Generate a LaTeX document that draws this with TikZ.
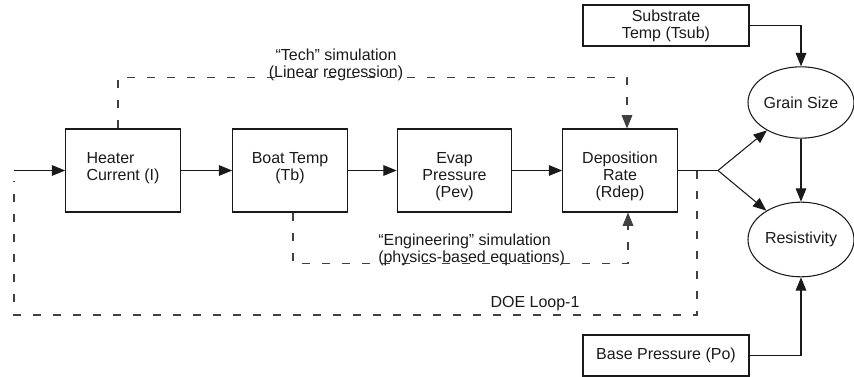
\documentclass[tikz,border=0pt]{standalone}
\usepackage{fontspec}
\setmainfont{Liberation Sans}
\usetikzlibrary{arrows.meta, calc, positioning, shapes.geometric}
\definecolor{Ink}{HTML}{1A1A1A}
\definecolor{DGray}{HTML}{404040}

\begin{document}
\begin{tikzpicture}[x=0.75pt, y=-0.75pt,
    every node/.style={font=\fontsize{12}{12.75}\selectfont, text=Ink},
    block/.style={draw=Ink, line width=0.8pt, minimum width=86pt, minimum height=62.25pt,
      align=center, text height=#1, text depth=5pt},
    block/.default=19.7pt,
    source/.style={draw=Ink, line width=0.8pt, minimum width=124.5pt, minimum height=30.75pt, align=center},
    oval/.style={draw=Ink, line width=0.8pt, ellipse, inner sep=0pt, minimum width=79.5pt, minimum height=53.5pt},
    note/.style={inner sep=0pt, align=center},
    flow/.style={draw=Ink, line width=0.8pt, -{Triangle[length=10pt, width=8pt]}},
    sim/.style={draw=DGray, line width=0.8pt, dash pattern=on 6pt off 9pt}]
  \useasboundingbox (0,0) rectangle (854,377);
  % Process chain
  \node[block, align=left] (heater) at (123,170.5) {Heater\\Current (I)};
  \node[block] (boat) at (290,170.5) {Boat Temp\\(Tb)};
  \node[block=45.2pt] (evap) at (454.5,170.5) {Evap\\Pressure\\(Pev)};
  \node[block=45.2pt] (dep) at (620,170.5) {Deposition\\Rate\\(Rdep)};
  % Film properties and their other inputs
  \node[source] (tsub) at (666,25.5) {Substrate\\Temp (Tsub)};
  \node[source] (po) at (666,355.5) {Base Pressure (Po)};
  \node[oval] (grain) at (801,102.5) {Grain Size};
  \node[oval, minimum height=56pt] (rho) at (801,239.5) {Resistivity};
  \coordinate (in) at (14,170.5);
  \coordinate (split) at (718,170.5);
  \coordinate (tap) at (697,171);
  \coordinate (loopend) at (14,181);
  % Arrows
  \draw[flow] (in) -- (heater);
  \draw[flow] (heater) -- (boat);
  \draw[flow] (boat) -- (evap);
  \draw[flow] (evap) -- (dep);
  \draw[draw=Ink, line width=0.8pt] (dep) -- (split);
  \foreach \prop in {grain, rho} \draw[flow] (split) -- (\prop);
  \draw[flow] (grain) -- (rho);
  \draw[flow] (tsub.east) -| (grain.north);
  \draw[flow] (po.east) -| (rho.south);
  % Simulations
  \draw[sim, -{Triangle[length=10pt, width=8pt]}] ([xshift=-3.75pt]heater.north) -- ++(0,-51)
    -| ([xshift=5.25pt]dep.north);
  \node[note] (tech) at (336,64.4) {“Tech” simulation\\(Linear regression)};
  \draw[sim, -{Triangle[length=10pt, width=8pt]}] ([xshift=2.25pt]boat.south) -- ++(0,51)
    -| ([xshift=6pt]dep.south);
  \node[note, align=left, anchor=west] (eng) at (378,249.4) {“Engineering” simulation\\(physics-based equations)};
  % DOE loop
  \draw[sim] (tap) -- ++(0,144) -| (loopend);
  \node[note, anchor=base] (doe) at (535,308) {DOE Loop-1};
\end{tikzpicture}
\end{document}
